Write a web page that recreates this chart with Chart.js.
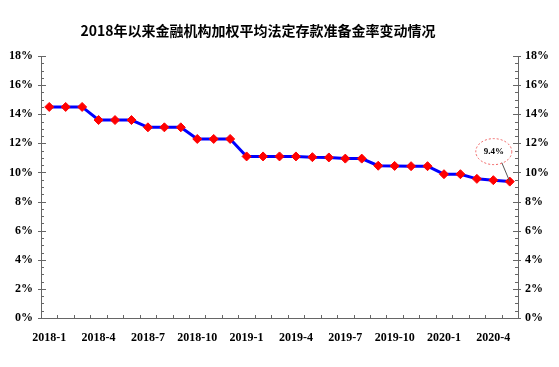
<!DOCTYPE html>
<html>
<head>
    <meta charset="utf-8">
    <title>存款准备金率变动</title>
    <script src="https://cdn.jsdelivr.net/npm/chart.js"></script>
    <style>
        html, body {
            margin: 0;
            padding: 0;
            background: #ffffff;
        }
        .chart-box {
            width: 559px;
            height: 367px;
        }
    </style>
</head>
<body>
    <div class="chart-box">
        <canvas id="rrrChart"></canvas>
    </div>

    <script>
        // 月份（2018-1 到 2020-5）
        const months = [
            '2018-1', '2018-2', '2018-3', '2018-4', '2018-5', '2018-6', '2018-7', '2018-8', '2018-9',
            '2018-10', '2018-11', '2018-12', '2019-1', '2019-2', '2019-3', '2019-4', '2019-5', '2019-6',
            '2019-7', '2019-8', '2019-9', '2019-10', '2019-11', '2019-12', '2020-1', '2020-2', '2020-3',
            '2020-4', '2020-5'
        ];
        // 加权平均法定存款准备金率（%）
        const rates = [
            14.5, 14.5, 14.5, 13.6, 13.6, 13.6, 13.1, 13.1, 13.1,
            12.3, 12.3, 12.3, 11.1, 11.1, 11.1, 11.1, 11.05, 11.03,
            10.95, 10.95, 10.46, 10.45, 10.43, 10.43, 9.88, 9.88, 9.56,
            9.47, 9.37
        ];
        const yMin = 0;
        const yMax = 18;
        const labelEvery = 3;

        const titleText = '2018年以来金融机构加权平均法定存款准备金率变动情况';
        const serif = '"Liberation Serif", "Times New Roman", serif';

        // 标题、坐标轴内侧刻度线、末值标注
        const decorPlugin = {
            id: 'decor',
            afterDraw(chart) {
                const c = chart.ctx;
                const x = chart.scales.x;
                const yl = chart.scales.y;
                const area = chart.chartArea;
                c.save();

                // 标题（原图略偏左）
                c.fillStyle = '#000';
                c.font = 'bold 14px "Noto Sans CJK SC", ' + serif;
                c.textAlign = 'center';
                c.textBaseline = 'middle';
                c.fillText(titleText, 258, 31);

                c.strokeStyle = '#666';
                c.lineWidth = 1;
                c.beginPath();
                yl.ticks.forEach((t, i) => {
                    const py = Math.round(yl.getPixelForTick(i)) + 0.5;
                    const major = t.value % 2 === 0;
                    c.moveTo(area.left - (major ? 3 : 0), py);
                    c.lineTo(area.left + (major ? 5 : 3), py);
                    c.moveTo(area.right + (major ? 3 : 0), py);
                    c.lineTo(area.right - (major ? 5 : 3), py);
                });
                for (let i = 1; i < months.length; i++) {
                    const px = Math.round((x.getPixelForValue(i - 1) + x.getPixelForValue(i)) / 2) + 0.5;
                    c.moveTo(px, area.bottom);
                    c.lineTo(px, area.bottom - 3);
                }
                c.stroke();

                // 末值标注
                const last = rates.length - 1;
                const lx = x.getPixelForValue(last);
                const ly = yl.getPixelForValue(rates[last]);
                const ex = lx - 16, ey = ly - 30;
                c.strokeStyle = '#555';
                c.beginPath();
                c.moveTo(ex + 8, ey + 11);
                c.lineTo(lx, ly);
                c.stroke();
                c.strokeStyle = '#f06060';
                c.setLineDash([2, 2]);
                c.beginPath();
                c.ellipse(ex, ey, 18, 13, 0, 0, Math.PI * 2);
                c.stroke();
                c.setLineDash([]);
                c.fillStyle = '#000';
                c.font = 'bold 9px ' + serif;
                c.fillText(rates[last].toFixed(1) + '%', ex, ey);
                c.restore();
            }
        };

        const pctTick = v => (v % 2 === 0 ? v + '%' : '');

        new Chart(document.getElementById('rrrChart'), {
            type: 'line',
            data: {
                labels: months,
                datasets: [{
                    data: rates,
                    borderColor: '#0000ff',
                    borderWidth: 3,
                    pointStyle: 'rectRot',
                    pointRadius: 4.5,
                    pointBackgroundColor: '#ff0000',
                    pointBorderColor: '#ff0000',
                    pointBorderWidth: 1,
                    tension: 0,
                    yAxisID: 'y'
                }]
            },
            options: {
                responsive: true,
                maintainAspectRatio: false,
                animation: false,
                layout: { padding: { left: 0, right: 0, top: 56, bottom: 0 } },
                plugins: {
                    legend: { display: false },
                    tooltip: { enabled: false },
                    title: { display: false }
                },
                scales: {
                    x: {
                        offset: true,
                        grid: { display: false, drawTicks: false },
                        border: { display: true, color: '#666', width: 1 },
                        ticks: {
                            autoSkip: false,
                            maxRotation: 0,
                            padding: 13,
                            color: '#000',
                            font: { family: serif, size: 12, weight: 'bold' },
                            callback: (v, i) => (i % labelEvery === 0 ? months[i] : '')
                        },
                        afterFit: s => { s.height = 49; }
                    },
                    y: {
                        position: 'left',
                        min: yMin,
                        max: yMax,
                        grid: { display: false, drawTicks: false },
                        border: { display: true, color: '#666', width: 1 },
                        ticks: {
                            stepSize: 0.5,
                            autoSkip: false,
                            padding: 8,
                            color: '#000',
                            font: { family: serif, size: 12, weight: 'bold' },
                            callback: pctTick
                        },
                        afterFit: s => { s.width = 41; }
                    },
                    y2: {
                        position: 'right',
                        min: yMin,
                        max: yMax,
                        grid: { display: false, drawTicks: false },
                        border: { display: true, color: '#666', width: 1 },
                        ticks: {
                            stepSize: 0.5,
                            autoSkip: false,
                            padding: 7,
                            color: '#000',
                            font: { family: serif, size: 12, weight: 'bold' },
                            callback: pctTick
                        },
                        afterFit: s => { s.width = 41; }
                    }
                }
            },
            plugins: [decorPlugin]
        });
    </script>
</body>
</html>
